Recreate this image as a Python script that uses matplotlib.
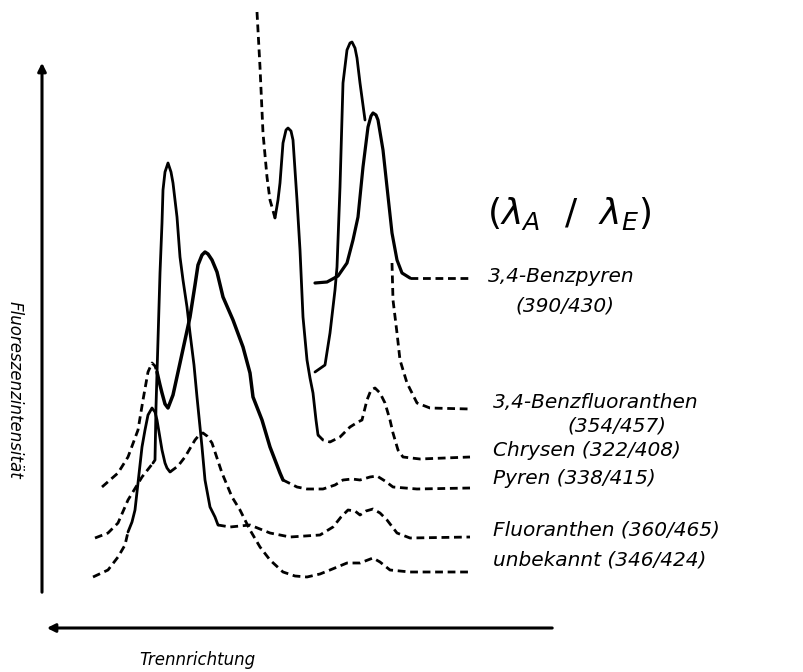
import numpy as np
import matplotlib
matplotlib.use('Agg')
from matplotlib import pyplot as plt

plt.rcParams['font.family'] = ['DejaVu Sans']
plt.rcParams['mathtext.fontset'] = 'dejavusans'

fl_x = [95, 108, 118, 128, 142, 153, 155, 156, 157, 158, 160, 162, 163, 165, 168, 171,
        173, 177, 180, 183, 187, 190, 194, 197, 202, 205, 210, 215, 218, 230, 250, 270,
        290, 320, 333, 341, 348, 355, 360, 366, 373, 380, 387, 397, 410, 470]
fl_y = [134, 139, 149, 172, 195, 209, 212, 265, 299, 332, 399, 449, 482, 500, 509, 500,
        489, 455, 415, 392, 365, 339, 307, 275, 225, 192, 165, 155, 147, 145, 147, 139,
        135, 137, 145, 155, 162, 161, 157, 161, 163, 159, 152, 139, 134, 135]
fl_solid = (5, 28)

py_x = [102, 110, 118, 128, 138, 143, 148, 152, 155, 157, 160, 162, 165, 168, 173, 180,
        185, 190, 195, 198, 202, 205, 208, 212, 217, 223, 233, 243, 250, 253, 262, 270,
        280, 283, 297, 307, 323, 335, 343, 352, 360, 370, 377, 385, 393, 417, 470]
py_y = [185, 192, 199, 215, 242, 272, 300, 309, 306, 300, 287, 279, 268, 264, 277, 309,
        332, 355, 387, 407, 417, 420, 418, 412, 400, 375, 352, 325, 299, 275, 252, 225,
        199, 192, 185, 183, 183, 187, 192, 193, 192, 195, 196, 191, 185, 183, 184]
py_solid = (9, 33)

un_x = [93, 108, 118, 125, 128, 132, 135, 138, 142, 145, 148, 152, 155, 157, 162, 165,
        167, 170, 178, 185, 195, 200, 203, 207, 212, 222, 232, 240, 250, 260, 270, 283,
        295, 307, 320, 330, 347, 360, 373, 380, 390, 410, 470]
un_y = [95, 102, 115, 127, 140, 150, 162, 189, 225, 242, 257, 264, 260, 252, 222, 209,
        204, 200, 206, 215, 232, 238, 239, 236, 229, 199, 175, 162, 142, 125, 112, 100,
        96, 95, 98, 102, 109, 109, 114, 110, 102, 100, 100]
un_solid = (4, 17)

ch_x = [257, 260, 263, 267, 270, 272, 275, 278, 280, 283, 286, 288, 291, 293, 297, 300,
        303, 307, 310, 313, 316, 318, 323, 330, 340, 350, 358, 362, 367, 371, 375, 380,
        385, 390, 393, 398, 403, 420, 470]
ch_y = [660, 605, 539, 495, 472, 465, 454, 472, 489, 529, 542, 544, 541, 532, 472, 422,
        355, 312, 294, 279, 252, 237, 232, 230, 235, 245, 250, 252, 272, 282, 284, 279,
        269, 252, 239, 222, 215, 213, 215]
ch_solid = (6, 21)

bf_x = [315, 325, 330, 335, 337, 340, 343, 347, 350, 352, 355, 357, 360, 365]
bf_y = [300, 307, 339, 382, 405, 485, 589, 622, 629, 630, 624, 614, 589, 552]
bf_tail_x = [392, 393, 397, 400, 407, 417, 430, 470]
bf_tail_y = [409, 372, 339, 312, 289, 269, 264, 263]

bp_x = [315, 327, 338, 347, 353, 358, 363, 368, 371, 373, 376, 378, 383, 387, 392, 397,
        402, 410, 430, 470]
bp_y = [389, 390, 396, 409, 432, 455, 505, 545, 556, 559, 557, 552, 522, 485, 439, 412,
        399, 394, 394, 394]
bp_solid = (0, 17)

labels = ['3,4-Benzpyren', '(390/430)', '3,4-Benzfluoranthen', '(354/457)',
          'Chrysen (322/408)', 'Pyren (338/415)', 'Fluoranthen (360/465)',
          'unbekannt (346/424)']
label_x = [488, 515, 493, 567, 493, 493, 493, 493]
label_y = [396, 366, 269, 246, 221, 193, 142, 112]

fig = plt.figure(figsize=(8.04, 6.72), dpi=100)
ax = fig.add_axes([0, 0, 1, 1])
ax.set_xlim(0, 804)
ax.set_ylim(0, 672)
ax.axis('off')

LW = 2.0
DASH = (0, (2.8, 1.7))


def trace(x, y, solid, lw=LW):
    i0, i1 = solid
    ax.plot(x[:i0 + 1], y[:i0 + 1], color='black', lw=LW, linestyle=DASH)
    ax.plot(x[i0:i1 + 1], y[i0:i1 + 1], color='black', lw=lw, solid_capstyle='round',
            solid_joinstyle='round')
    ax.plot(x[i1:], y[i1:], color='black', lw=LW, linestyle=DASH)


trace(fl_x, fl_y, fl_solid)
trace(py_x, py_y, py_solid, lw=2.5)
trace(un_x, un_y, un_solid)
trace(ch_x, ch_y, ch_solid)
trace(bp_x, bp_y, bp_solid, lw=2.3)
ax.plot(bf_x, bf_y, color='black', lw=LW, solid_capstyle='round', solid_joinstyle='round')
ax.plot(bf_tail_x, bf_tail_y, color='black', lw=LW, linestyle=DASH)

# axes arrows
ax.annotate('', xy=(42, 612), xytext=(42, 77),
            arrowprops=dict(arrowstyle='-|>', lw=2.2, color='black', mutation_scale=12))
ax.annotate('', xy=(44, 44), xytext=(555, 44),
            arrowprops=dict(arrowstyle='-|>', lw=2.2, color='black', mutation_scale=12))

ax.text(15, 282, 'Fluoreszenzintensität', rotation=-90, ha='center', va='center',
        fontsize=12, fontstyle='italic')
ax.text(197, 12, 'Trennrichtung', ha='center', va='center', fontsize=12,
        fontstyle='italic')

ax.text(487, 459, r'$(\lambda_A\ \ /\ \ \lambda_E)$', ha='left', va='center', fontsize=26)
for t, x, y in zip(labels, label_x, label_y):
    ax.text(x, y, t, ha='left', va='center', fontsize=14.5, fontstyle='italic')

fig.savefig('out.png', dpi=100)
